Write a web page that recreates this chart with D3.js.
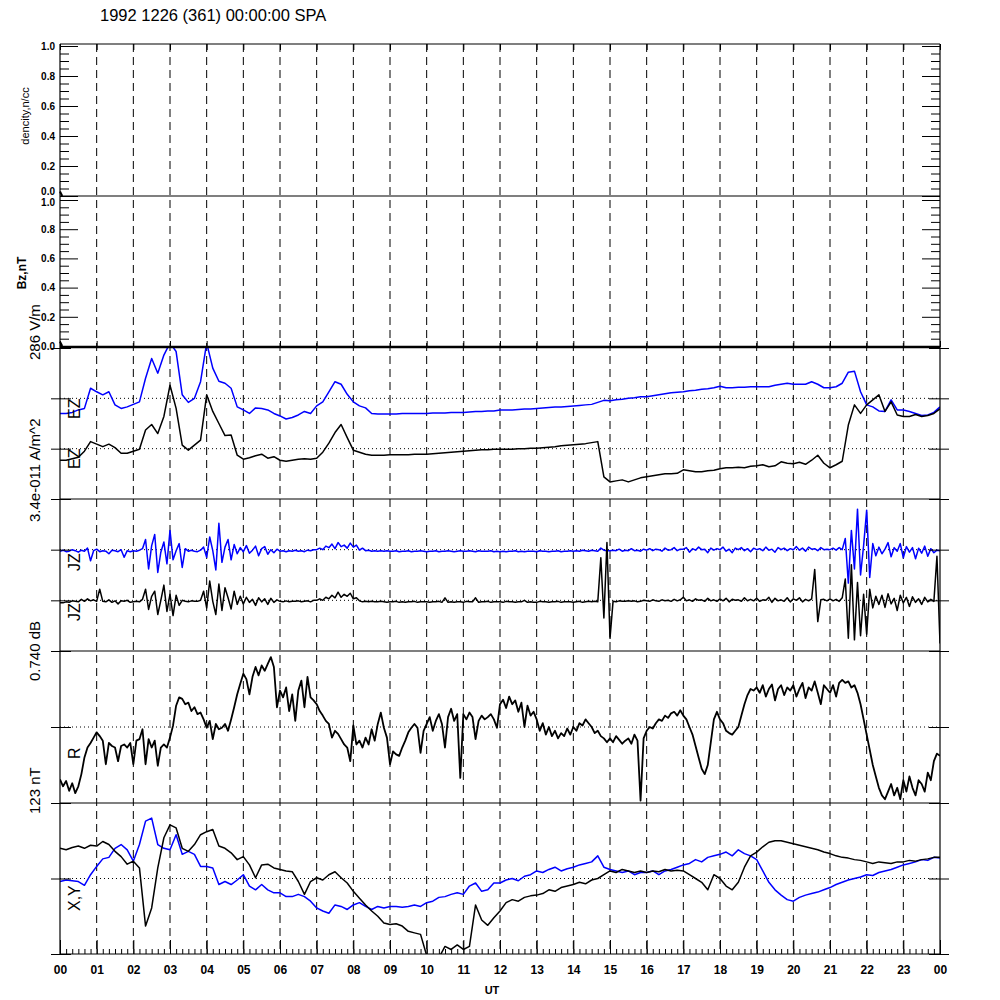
<!DOCTYPE html>
<html><head><meta charset="utf-8">
<script src="https://cdn.jsdelivr.net/npm/d3@7"></script>
<style>body{margin:0;background:#fff}svg{display:block}</style>
</head><body><svg id="c" width="1000" height="1000"></svg>
<script>
// ---------------- DATA ----------------
const titleText = "1992 1226 (361) 00:00:00 SPA";
const hourLabels = ["00","01","02","03","04","05","06","07","08","09","10","11","12","13","14","15","16","17","18","19","20","21","22","23","00"];
const densityTicks = [0.0,0.2,0.4,0.6,0.8,1.0];
const bzTicks = [0.0,0.2,0.4,0.6,0.8,1.0];
const densityVals = [0.03,0.0];
const bzVals = [0.03,0.0];
const leftLabels = ["dencity,n/cc","Bz,nT","286 V/m","3.4e-011 A/m^2","0.740 dB","123 nT"];
const innerLabels = ["EZ","EZ","JZ","JZ","R","X,Y"];

// EZ (10-min samples, 00:00..24:00)
const ezBlue = [
1.70,1.70,1.72,1.77,1.80,2.20,2.13,2.07,2.13,1.87,1.80,1.83,
1.88,1.93,2.40,2.79,2.50,2.86,3.10,2.93,2.07,1.92,2.00,2.33,
3.10,2.60,2.34,2.30,2.20,1.83,1.77,1.70,1.81,1.80,1.77,1.70,
1.65,1.59,1.62,1.67,1.74,1.70,1.85,1.93,2.13,2.33,2.28,2.08,
1.93,1.85,1.81,1.70,1.69,1.69,1.69,1.69,1.70,1.70,1.70,1.70,
1.70,1.71,1.71,1.71,1.72,1.72,1.72,1.73,1.74,1.74,1.75,1.75,
1.77,1.77,1.77,1.78,1.79,1.79,1.80,1.81,1.82,1.83,1.83,1.84,
1.85,1.86,1.87,1.88,1.92,1.96,1.95,1.97,1.98,2.00,2.01,2.03,
2.03,2.05,2.07,2.09,2.11,2.12,2.13,2.15,2.16,2.18,2.19,2.21,
2.24,2.21,2.21,2.22,2.22,2.23,2.23,2.23,2.23,2.26,2.28,2.30,
2.28,2.28,2.28,2.33,2.28,2.21,2.21,2.23,2.30,2.52,2.54,2.13,
1.87,1.83,1.75,1.74,1.97,1.77,1.77,1.74,1.70,1.66,1.67,1.72,
1.83];
const ezBlack = [
0.77,0.77,0.80,0.83,0.95,1.14,1.09,1.04,1.09,1.02,0.91,0.91,
0.95,0.99,1.37,1.48,1.30,1.64,2.26,1.80,1.07,0.97,1.07,1.17,
2.07,1.74,1.50,1.26,1.27,0.87,0.79,0.82,0.86,0.89,0.81,0.84,
0.77,0.75,0.77,0.79,0.80,0.79,0.81,0.93,1.11,1.32,1.48,1.22,
0.97,0.93,0.89,0.87,0.87,0.87,0.88,0.88,0.88,0.88,0.89,0.89,
0.89,0.90,0.91,0.92,0.93,0.94,0.95,0.96,0.97,0.98,0.98,0.99,
0.99,0.99,0.99,1.00,1.00,1.01,1.01,1.02,1.03,1.04,1.06,1.07,
1.08,1.09,1.10,1.12,1.14,0.44,0.34,0.36,0.38,0.34,0.38,0.42,
0.44,0.46,0.48,0.50,0.50,0.51,0.58,0.56,0.54,0.54,0.56,0.57,
0.60,0.62,0.62,0.63,0.62,0.65,0.66,0.68,0.64,0.66,0.74,0.71,
0.70,0.73,0.69,0.77,0.87,0.71,0.62,0.68,0.75,1.47,1.87,1.70,
1.87,1.97,2.07,1.74,1.93,1.67,1.64,1.64,1.68,1.64,1.66,1.70,
1.79];

// JZ (5-min samples)
const jzBlue = [
1.97,1.99,1.96,1.97,2.00,1.98,1.95,1.99,1.97,2.03,1.78,1.98,
2.01,1.96,1.98,1.97,1.92,1.99,1.98,1.96,2.00,1.85,1.98,1.96,
1.98,1.97,1.99,2.02,2.20,1.62,2.08,2.30,1.55,1.95,2.15,1.72,
2.38,1.80,1.98,2.12,1.65,2.02,1.97,1.99,1.97,1.96,1.99,2.05,
1.85,2.25,1.98,1.60,2.52,1.75,2.05,2.20,1.80,2.10,1.92,2.04,
1.96,2.08,1.93,1.99,2.07,1.88,2.02,2.06,1.91,2.00,1.94,2.01,
1.97,1.98,1.96,1.98,1.97,1.99,1.97,1.98,1.96,1.99,1.98,2.00,
2.00,2.03,2.00,2.07,2.04,2.11,2.02,2.14,2.06,2.09,2.03,2.13,
2.05,2.09,1.99,2.03,1.98,1.99,1.97,1.98,1.97,1.98,1.97,1.98,
1.97,1.97,1.98,1.96,1.97,1.97,1.98,1.96,1.97,1.97,1.98,1.97,
1.96,1.97,1.97,1.98,1.96,1.97,1.97,1.98,1.97,1.96,1.97,1.98,
1.97,1.97,1.98,1.97,1.96,1.98,1.97,1.97,1.97,1.98,1.96,1.97,
1.96,1.97,1.96,1.97,1.97,1.98,1.96,1.97,1.96,1.97,1.97,1.97,
1.96,1.98,1.97,1.97,1.96,1.97,1.97,1.98,1.96,1.97,1.97,1.98,
1.97,1.98,1.97,1.99,1.98,1.97,1.99,1.98,1.97,2.03,1.99,1.98,
1.98,1.99,1.98,2.01,1.97,1.99,1.98,2.02,1.98,1.99,1.97,2.01,
1.99,2.02,1.98,2.01,2.00,1.97,2.03,1.99,2.00,2.04,1.98,2.01,
2.01,2.04,1.95,2.02,1.99,2.05,2.00,2.01,1.94,2.03,1.99,2.02,
2.00,2.05,1.97,2.01,1.94,2.03,2.00,2.04,1.98,2.02,1.96,2.03,
2.00,2.02,1.98,2.05,1.99,2.01,1.95,2.04,2.00,2.03,1.98,2.02,
2.00,2.06,1.99,2.03,1.97,2.05,2.01,2.02,1.98,2.04,2.00,2.01,
2.00,2.03,1.99,2.04,2.00,2.22,1.34,2.38,1.62,2.80,1.50,2.08,
2.78,1.45,2.12,1.88,2.05,1.92,2.01,2.14,1.86,2.04,1.97,2.12,
1.84,2.06,1.95,2.04,1.82,2.03,1.93,2.07,1.87,2.02,1.94,1.99,
1.98];
const jzBlack = [
0.95,0.95,0.97,0.96,0.99,0.98,0.97,1.02,0.98,1.03,0.99,1.01,
0.98,1.22,0.98,0.97,1.01,0.96,0.99,0.93,0.99,0.98,1.00,0.96,
0.97,0.98,0.97,1.02,1.22,0.82,1.08,1.18,0.72,1.00,1.30,0.78,
1.12,0.70,1.10,0.90,1.00,0.98,0.97,0.99,0.98,0.98,1.00,1.18,
0.85,1.38,0.98,0.72,1.32,0.80,1.25,1.05,0.83,1.18,0.92,1.08,
0.93,1.06,0.96,1.02,0.90,1.05,0.97,1.03,0.92,1.04,0.96,1.01,
0.98,0.97,0.99,0.97,0.98,0.98,0.99,0.97,0.98,0.99,0.97,1.00,
1.00,1.03,1.00,1.06,1.03,1.10,1.05,1.16,1.06,1.12,1.08,1.14,
1.03,1.05,0.99,0.97,0.98,0.97,0.98,0.97,0.97,0.98,0.97,0.96,
0.97,0.97,0.98,0.96,0.97,0.96,0.97,0.97,0.98,0.96,0.97,0.97,
0.97,0.96,0.97,0.97,0.98,0.96,1.05,0.96,0.97,0.96,0.97,0.97,
0.96,0.98,0.97,0.97,1.05,0.96,0.97,0.97,0.98,0.96,0.97,0.97,
0.97,0.96,0.98,0.97,0.97,0.96,0.97,0.97,1.00,0.96,0.97,0.96,
0.96,0.98,0.97,0.97,0.96,0.97,0.97,0.98,0.96,0.97,0.97,0.97,
0.96,0.97,0.98,0.96,0.97,0.98,0.97,0.98,0.97,1.84,0.65,2.14,
0.25,0.98,0.97,0.99,0.98,0.98,0.99,0.98,0.99,0.97,0.98,1.00,
0.99,0.98,1.01,0.99,0.98,1.01,0.99,1.00,0.98,1.02,0.99,1.01,
1.06,0.99,1.01,0.98,1.03,1.00,1.01,0.98,1.04,0.99,1.01,0.98,
1.03,0.99,1.04,0.97,1.02,1.00,1.01,0.98,1.05,0.99,1.02,0.99,
1.04,0.98,1.01,1.00,1.06,0.96,1.04,0.99,1.01,0.98,1.05,0.97,
1.03,1.00,1.05,0.97,1.02,0.99,1.03,1.61,0.58,1.01,1.02,0.99,
1.03,0.99,1.02,0.98,1.05,1.42,0.25,1.70,0.22,1.35,0.30,1.12,
0.33,1.22,0.85,1.08,0.92,1.10,0.86,1.13,0.93,1.04,0.80,1.10,
0.95,1.06,0.88,1.07,0.96,1.03,0.92,1.06,0.97,1.02,0.98,1.87,
0.15];

// R (5-min samples)
const rVals = [
0.31,0.22,0.29,0.16,0.26,0.13,0.22,0.38,0.60,0.73,0.79,0.86,
0.93,0.88,0.82,0.51,0.79,0.75,0.73,0.55,0.75,0.77,0.73,0.79,
0.51,0.82,0.84,0.97,0.51,0.84,0.73,0.82,0.49,0.73,0.77,0.73,
0.86,1.02,1.28,1.39,1.37,1.30,1.32,1.21,1.26,1.17,1.19,1.10,
0.99,1.08,0.84,1.04,0.97,0.99,1.04,0.95,1.10,1.26,1.43,1.57,
1.70,1.63,1.43,1.66,1.79,1.68,1.81,1.74,1.83,1.92,1.79,1.26,
1.48,1.39,1.52,1.21,1.43,1.08,1.48,1.61,1.26,1.66,1.39,1.35,
1.30,1.21,1.15,1.08,1.04,0.86,0.95,0.91,0.84,0.77,0.73,0.55,
1.02,0.77,0.82,0.73,0.86,0.77,0.97,0.82,1.04,1.19,0.99,0.86,
0.51,0.68,0.64,0.62,0.73,0.82,0.93,0.99,1.04,0.99,0.66,0.95,
1.04,1.13,0.95,1.08,1.17,1.04,0.73,1.13,1.24,1.08,1.17,0.33,
1.17,1.10,1.19,1.13,0.84,1.08,1.15,1.10,1.13,1.17,1.10,0.99,
1.30,1.36,1.25,1.40,1.30,1.35,1.20,1.32,1.00,1.28,1.15,1.20,
1.10,0.95,1.05,0.90,1.00,0.88,0.95,0.85,0.92,0.88,0.98,0.90,
1.00,0.95,1.05,1.02,1.10,1.05,1.00,0.92,0.95,0.88,0.85,0.80,
0.85,0.80,0.88,0.83,0.78,0.82,0.85,0.78,0.90,0.82,0.03,0.85,
0.95,1.00,0.98,1.05,1.10,1.08,1.15,1.12,1.18,1.20,1.15,1.22,
1.15,1.10,1.00,0.90,0.75,0.60,0.45,0.38,0.50,0.80,1.10,1.20,
1.10,1.05,0.95,0.92,0.90,0.95,1.00,1.15,1.30,1.42,1.50,1.48,
1.52,1.45,1.55,1.40,1.50,1.56,1.35,1.50,1.55,1.42,1.52,1.48,
1.55,1.40,1.50,1.58,1.38,1.52,1.48,1.60,1.45,1.30,1.55,1.50,
1.45,1.55,1.40,1.58,1.62,1.58,1.60,1.52,1.55,1.45,1.30,1.10,
0.90,0.70,0.50,0.35,0.20,0.10,0.05,0.15,0.25,0.10,0.20,0.05,
0.30,0.15,0.35,0.20,0.10,0.30,0.25,0.15,0.40,0.30,0.55,0.65,
0.62];

// X and Y (10-min samples)
const xVals = [
1.40,1.38,1.41,1.43,1.40,1.44, 1.43,1.49,1.45,1.36,1.29,1.19,
1.23,1.14,0.37,0.61,1.14,1.54, 1.71,1.67,1.40,1.36,1.45,1.58,
1.62,1.65,1.43,1.40,1.34,1.25, 1.29,1.18,1.01,1.18,1.19,1.14,
1.12,1.10,1.09,0.96,0.79,0.96, 1.01,0.98,1.05,1.09,1.01,0.94,
0.83,0.74,0.65,0.57,0.50,0.41, 0.39,0.40,0.37,0.30,0.28,0.26,
-0.02,-0.10,-0.05,0.10,0.06,0.12, 0.06,0.10,0.65,0.45,0.38,0.48,
0.57,0.68,0.72,0.70,0.75,0.77, 0.78,0.80,0.85,0.83,0.88,0.90,
0.92,0.95,0.93,0.98,1.00,1.05, 1.10,1.08,1.12,1.10,1.08,1.10,
1.08,1.10,1.09,1.12,1.10,1.11, 1.10,1.05,1.00,0.95,0.85,1.05,
1.00,0.90,0.85,0.95,1.15,1.30, 1.35,1.42,1.48,1.50,1.50,1.48,
1.46,1.44,1.42,1.40,1.38,1.35, 1.33,1.30,1.28,1.27,1.25,1.24,
1.22,1.20,1.22,1.21,1.20,1.22, 1.22,1.24,1.23,1.25,1.26,1.28,
1.28];
const yVals = [
0.96,0.98,0.97,0.96,0.91,1.05, 1.16,1.26,1.28,1.40,1.45,1.38,
1.23,1.45,1.76,1.80,1.45,1.40, 1.38,1.58,1.32,1.36,1.32,1.16,
1.16,1.14,0.92,0.96,0.92,0.98, 1.05,0.90,0.85,0.92,0.85,0.81,
0.81,0.76,0.76,0.79,0.76,0.70, 0.61,0.57,0.54,0.65,0.63,0.59,
0.65,0.68,0.63,0.59,0.63,0.61, 0.63,0.63,0.62,0.63,0.65,0.63,
0.68,0.70,0.75,0.76,0.79,0.81, 0.79,0.90,0.94,0.83,0.85,0.94,
0.94,0.98,1.00,0.97,1.03,1.05, 1.10,1.08,1.12,1.15,1.10,1.13,
1.15,1.18,1.20,1.22,1.30,1.15, 1.12,1.10,1.08,1.10,1.05,1.08,
1.08,1.10,1.05,1.10,1.12,1.15, 1.18,1.20,1.25,1.22,1.28,1.30,
1.32,1.35,1.30,1.38,1.33,1.30, 1.25,1.10,0.95,0.85,0.78,0.72,
0.70,0.75,0.78,0.80,0.82,0.85, 0.88,0.92,0.95,0.98,1.00,1.02,
1.05,1.04,1.08,1.10,1.12,1.15, 1.18,1.20,1.22,1.25,1.24,1.28,
1.27];

// ---------------- DRAW ----------------
const FONT = "'Liberation Sans', Arial, Helvetica, sans-serif";
const svg = d3.select("#c");
const X0 = 60, X1 = 940;
const x = d3.scaleLinear().domain([0, 24]).range([X0, X1]);

const panels = [
  {id:"dens", top:44,  bottom:196, y:d3.scaleLinear().domain([0,1]).range([196,46])},
  {id:"bz",   top:196, bottom:347, y:d3.scaleLinear().domain([0,1]).range([346,200])},
  {id:"ez",   top:348, bottom:499, y:d3.scaleLinear().domain([0,3]).range([499,348])},
  {id:"jz",   top:499, bottom:651, y:d3.scaleLinear().domain([0,3]).range([651,499])},
  {id:"r",    top:651, bottom:803, y:d3.scaleLinear().domain([0,2]).range([803,651])},
  {id:"xy",   top:803, bottom:954, y:d3.scaleLinear().domain([0,2]).range([954,803])}
];
const defs = svg.append("defs");
panels.forEach(p => {
  defs.append("clipPath").attr("id","clip-"+p.id).append("rect")
    .attr("x", X0).attr("y", p.top).attr("width", X1-X0).attr("height", p.bottom-p.top);
});

// title
svg.append("text").attr("x",100).attr("y",21).attr("font-family",FONT).attr("font-size",16.5)
  .text(titleText);

// dashed hour lines
const hours = d3.range(1,24);
svg.append("g").selectAll("line").data(hours).join("line")
  .attr("x1",d=>x(d)).attr("x2",d=>x(d)).attr("y1",44).attr("y2",954)
  .attr("stroke","#000").attr("stroke-width",1).attr("stroke-dasharray","8,5");

// dotted reference lines
function dotted(p, vals){
  svg.append("g").selectAll("line").data(vals).join("line")
    .attr("x1",X0).attr("x2",X1).attr("y1",d=>p.y(d)).attr("y2",d=>p.y(d))
    .attr("stroke","#000").attr("stroke-width",1).attr("stroke-dasharray","1,3");
}
dotted(panels[2],[1,2]);
dotted(panels[3],[1,2]);
dotted(panels[4],[1]);
dotted(panels[5],[1]);

// series
function series(p, vals, color, width){
  const n = vals.length;
  const line = d3.line().x((d,i)=>x(i*24/(n-1))).y(d=>p.y(d));
  svg.append("path").attr("d", line(vals)).attr("fill","none")
    .attr("stroke",color).attr("stroke-width",width).attr("stroke-linejoin","round")
    .attr("clip-path","url(#clip-"+p.id+")");
}
function shortSeries(p, vals){
  const line = d3.line().x((d,i)=>x(i*0.06)).y(d=>p.y(d));
  svg.append("path").attr("d", line(vals)).attr("fill","none").attr("stroke","#000").attr("stroke-width",2);
}
shortSeries(panels[0], densityVals);
shortSeries(panels[1], bzVals);
series(panels[2], ezBlue, "#0000ff", 1.5);
series(panels[2], ezBlack, "#000", 1.5);
series(panels[3], jzBlue, "#0000ff", 1.5);
series(panels[3], jzBlack, "#000", 1.5);
series(panels[4], rVals, "#000", 1.8);
series(panels[5], yVals, "#0000ff", 1.5);
series(panels[5], xVals, "#000", 1.5);

// frame
const fr = svg.append("g").attr("stroke","#000").attr("fill","none");
fr.append("line").attr("x1",X0).attr("x2",X0).attr("y1",44).attr("y2",954).attr("stroke-width",1.2);
fr.append("line").attr("x1",X1).attr("x2",X1).attr("y1",44).attr("y2",954).attr("stroke-width",1.2);
[44,196,499,651,803,954].forEach(yy=>{
  fr.append("line").attr("x1",X0).attr("x2",X1).attr("y1",yy).attr("y2",yy).attr("stroke-width",1.2);
});
fr.append("line").attr("x1",X0).attr("x2",X1).attr("y1",347).attr("y2",347).attr("stroke-width",2.6);

// y axes for panels 1,2
function yAxes12(p, ticks, shiftLow, shiftHigh){
  const minor = d3.range(0,1.0001,0.05).filter(v=>Math.abs(v*5-Math.round(v*5))>1e-6);
  const gL = svg.append("g").attr("transform",`translate(${X0},0)`)
    .call(d3.axisLeft(p.y).tickValues(ticks).tickSize(-18).tickPadding(5).tickFormat(d3.format(".1f")));
  gL.select(".domain").remove();
  gL.selectAll("text").attr("font-family",FONT).attr("font-size",10).attr("font-weight","bold").attr("fill","#000")
    .attr("dy", d => d===0 ? (0.32+shiftLow)+"em" : d===1 ? (0.32+shiftHigh)+"em" : "0.32em");
  const gLm = svg.append("g").attr("transform",`translate(${X0},0)`)
    .call(d3.axisLeft(p.y).tickValues(minor).tickSize(-9).tickFormat(""));
  gLm.select(".domain").remove();
  const gR = svg.append("g").attr("transform",`translate(${X1},0)`)
    .call(d3.axisRight(p.y).tickValues(ticks).tickSize(-18).tickFormat(""));
  gR.select(".domain").remove();
  const gRm = svg.append("g").attr("transform",`translate(${X1},0)`)
    .call(d3.axisRight(p.y).tickValues(minor).tickSize(-9).tickFormat(""));
  gRm.select(".domain").remove();
}
yAxes12(panels[0], densityTicks, -0.45, 0);
yAxes12(panels[1], bzTicks, 0, 0.2);

// crossing ticks for lower panels
function crossTicks(p, vals){
  const gL = svg.append("g").attr("transform",`translate(${X0-9},0)`)
    .call(d3.axisLeft(p.y).tickValues(vals).tickSize(-20).tickFormat(""));
  gL.select(".domain").remove();
  const gR = svg.append("g").attr("transform",`translate(${X1+9},0)`)
    .call(d3.axisLeft(p.y).tickValues(vals).tickSize(20).tickFormat(""));
  gR.select(".domain").remove();
}
crossTicks(panels[2],[0,1,2,3]);
crossTicks(panels[3],[0,1,2]);
crossTicks(panels[4],[0,1]);
crossTicks(panels[5],[0,1]);

// time axes
const gTop = svg.append("g").attr("transform","translate(0,44)")
  .call(d3.axisBottom(x).tickValues(d3.range(0,25)).tickSize(6).tickFormat(""));
gTop.select(".domain").remove();
const gTop2 = svg.append("g").attr("transform","translate(0,347)")
  .call(d3.axisTop(x).tickValues(d3.range(0,25)).tickSize(6).tickFormat(""));
gTop2.select(".domain").remove();
const gBotMaj = svg.append("g").attr("transform","translate(0,954)")
  .call(d3.axisTop(x).tickValues(d3.range(0,25)).tickSize(14).tickFormat(""));
gBotMaj.select(".domain").remove();
const gBotMin = svg.append("g").attr("transform","translate(0,954)")
  .call(d3.axisTop(x).tickValues(d3.range(0,24.001,1/6)).tickSize(5).tickFormat(""));
gBotMin.select(".domain").remove();
const gLab = svg.append("g").attr("transform","translate(0,954)")
  .call(d3.axisBottom(x).tickValues(d3.range(0,25)).tickSize(0).tickPadding(11).tickFormat(d=>hourLabels[d]));
gLab.select(".domain").remove();
gLab.selectAll("text").attr("font-family",FONT).attr("font-size",12).attr("font-weight","bold").attr("fill","#000");
svg.append("text").attr("x",492).attr("y",994).attr("text-anchor","middle")
  .attr("font-family",FONT).attr("font-size",11).attr("font-weight","bold").text("UT");

// left rotated labels
function rlabel(txt, bx, by, anchor, size, weight){
  svg.append("text").attr("transform",`translate(${bx},${by}) rotate(-90)`)
    .attr("text-anchor",anchor).attr("font-family",FONT).attr("font-size",size)
    .attr("font-weight",weight||"normal").text(txt);
}
rlabel(leftLabels[0], 29, 116, "middle", 11);
rlabel(leftLabels[1], 26, 273, "middle", 12, "bold");
rlabel(leftLabels[2], 40, 360, "start", 15);
rlabel(leftLabels[3], 40, 522, "start", 15);
rlabel(leftLabels[4], 40, 681, "start", 15);
rlabel(leftLabels[5], 40, 814, "start", 15);

// inner series labels
rlabel(innerLabels[0], 80, 419, "start", 16);
rlabel(innerLabels[1], 80, 469, "start", 16);
rlabel(innerLabels[2], 80, 571, "start", 16);
rlabel(innerLabels[3], 80, 621, "start", 16);
rlabel(innerLabels[4], 80, 759, "start", 16);
rlabel(innerLabels[5], 80, 911, "start", 16);
</script></body></html>
